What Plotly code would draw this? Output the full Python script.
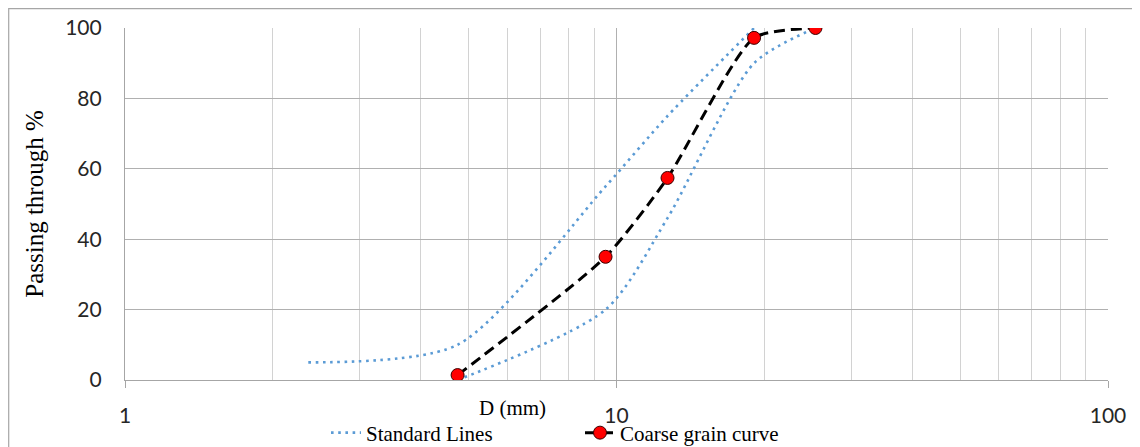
import plotly.graph_objects as go

# Sieve sizes (mm) and passing percentages
coarse_sizes = [4.75, 9.5, 12.7, 19.05, 25.4]
coarse_pass = [1.4, 35, 57.4, 97.2, 100]

upper_sizes = [2.36, 4.75, 9.5, 12.7, 19.05]
upper_pass = [5, 10, 55, 75, 100]

lower_sizes = [4.75, 9.5, 12.7, 19.05, 25.4]
lower_pass = [0, 20, 46, 90, 100]

x_tick_vals = [1, 10, 100]
x_tick_text = ["1", "10", "100"]
y_tick_vals = [0, 20, 40, 60, 80, 100]

BLUE = "#5B9BD5"
SERIF = "Liberation Serif"
TICKFONT = dict(family="Lato", size=21, color="#262626")

# page body has an 8px margin; plot area spans screen x 125..1108, y 28..380
PX = lambda sx: (sx - 125) / 983
PY = lambda sy: (380 - sy) / 352

fig = go.Figure()
fig.add_trace(go.Scatter(
    x=upper_sizes, y=upper_pass, mode="lines", name="Standard Lines",
    legendgroup="std",
    line=dict(color=BLUE, width=2.6, dash="2.6px,4.6px", shape="spline", smoothing=0.75),
))
fig.add_trace(go.Scatter(
    x=lower_sizes, y=lower_pass, mode="lines", name="Standard Lines",
    legendgroup="std", showlegend=False,
    line=dict(color=BLUE, width=2.6, dash="2.6px,4.6px", shape="spline", smoothing=0.75),
))
fig.add_trace(go.Scatter(
    x=coarse_sizes, y=coarse_pass, mode="lines+markers", name="Coarse grain curve",
    line=dict(color="black", width=3, dash="11px,6px", shape="spline", smoothing=0.6),
    marker=dict(color="#FF0000", size=13, line=dict(color="#3a0000", width=1)),
))

fig.update_layout(
    width=1132, height=439,
    margin=dict(l=117, r=32, t=20, b=67, autoexpand=False),
    paper_bgcolor="white", plot_bgcolor="white",
    showlegend=True,
    legend=dict(
        orientation="h", x=PX(326), xanchor="left",
        y=PY(433), yanchor="middle",
        font=dict(family=SERIF, size=21, color="black"),
        entrywidth=209, entrywidthmode="pixels",
        bgcolor="rgba(0,0,0,0)", tracegroupgap=0,
    ),
    shapes=[dict(
        type="rect", xref="paper", yref="paper",
        x0=PX(8.7), x1=PX(1160),
        y0=PY(470), y1=PY(8.7),
        line=dict(color="#a6a6a6", width=1.2), layer="below",
    )],
    annotations=[dict(
        text="D (mm)", xref="paper", yref="paper",
        x=PX(512), y=PY(408),
        xanchor="center", yanchor="middle", showarrow=False,
        font=dict(family=SERIF, size=21, color="black"),
    )],
)

fig.update_xaxes(
    type="log", range=[0, 2],
    tickvals=x_tick_vals, ticktext=x_tick_text,
    tickfont=TICKFONT, ticks="outside", ticklen=7, tickcolor="#a6a6a6",
    showline=True, linecolor="#a6a6a6", linewidth=1.2,
    showgrid=True, gridcolor="#b0b0b0", gridwidth=1.2,
    minor=dict(dtick="D1", showgrid=True, gridcolor="#d2d2d2", gridwidth=1.2, ticks=""),
    mirror=False, zeroline=False, ticklabelstandoff=10, automargin=False,
)
fig.update_yaxes(
    range=[0, 100], tickvals=y_tick_vals,
    tickfont=TICKFONT,
    showline=True, linecolor="#a6a6a6", linewidth=1.2,
    showgrid=True, gridcolor="#b0b0b0", gridwidth=1.2,
    zeroline=False, ticks="", ticklabelstandoff=18, automargin=False,
    title=dict(text="Passing through %", font=dict(family=SERIF, size=25, color="black"), standoff=14),
)

fig.write_html("out.html")
